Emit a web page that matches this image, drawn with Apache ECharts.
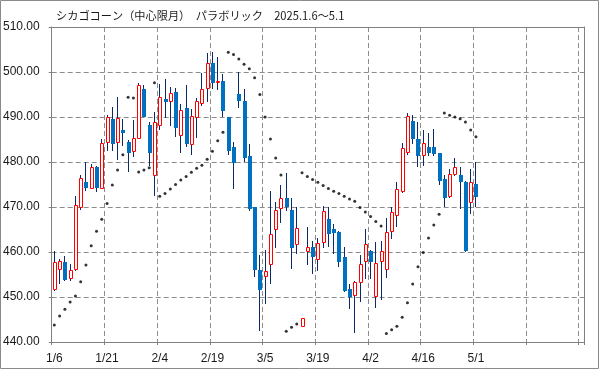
<!DOCTYPE html>
<html><head><meta charset="utf-8">
<script src="https://cdn.jsdelivr.net/npm/echarts@6/dist/echarts.min.js"></script>
<style>html,body{margin:0;padding:0;background:#fff}#c{width:599px;height:369px}</style>
</head><body><div id="c"></div>
<script>
const titleText = 'シカゴコーン（中心限月）　パラボリック　2025.1.6～5.1';
const dates = ['1/6','1/7','1/8','1/9','1/10','1/13','1/14','1/15','1/16','1/17',
  '1/21','1/22','1/23','1/24','1/27','1/28','1/29','1/30','1/31','2/3',
  '2/4','2/5','2/6','2/7','2/10','2/11','2/12','2/13','2/14','2/18',
  '2/19','2/20','2/21','2/24','2/25','2/26','2/27','2/28','3/3','3/4',
  '3/5','3/6','3/7','3/10','3/11','3/12','3/13','3/14','3/17','3/18',
  '3/19','3/20','3/21','3/24','3/25','3/26','3/27','3/28','3/31','4/1',
  '4/2','4/3','4/4','4/7','4/8','4/9','4/10','4/11','4/14','4/15',
  '4/16','4/17','4/21','4/22','4/23','4/24','4/25','4/28','4/29','4/30','5/1'];
const futureDates = ['5/2','5/5','5/6','5/7','5/8','5/9','5/12','5/13','5/14','5/15',
  '5/16','5/19','5/20','5/21','5/22','5/23','5/27','5/28','5/29','5/30'];
const openV = [451.5,455.9,457.8,453.9,455.9,469.8,475.6,474.1,479.0,474.0,
  484.2,489.6,484.2,487.2,484.5,482.2,485.1,496.3,488.3,476.9,
  487.9,494.1,493.3,495.6,485.7,491.9,483.7,489.7,493.0,496.2,
  502.1,497.8,498.1,490.0,483.4,495.2,493.6,481.4,469.9,456.1,
  454.4,457.1,464.9,469.6,472.0,469.3,461.6,443.3,459.9,461.2,
  458.2,462.0,467.4,465.2,464.5,459.0,451.8,450.2,453.1,457.8,
  460.2,450.0,457.8,455.9,464.4,467.9,473.3,481.9,489.1,485.1,
  481.3,483.3,483.4,481.9,476.3,472.2,477.1,477.2,475.6,470.9,475.2];
const closeV = [457.8,458.0,453.8,455.9,470.4,476.4,474.3,478.9,474.3,484.2,
  490.0,484.1,489.7,486.4,481.9,485.3,497.1,490.1,481.9,488.9,
  494.4,493.3,495.3,487.5,491.6,483.9,490.2,493.6,496.2,502.0,
  497.5,498.0,491.3,482.4,479.7,493.5,481.0,469.6,456.1,451.5,
  455.8,464.0,469.3,472.0,470.1,460.8,465.3,445.4,461.1,458.8,
  461.9,469.1,464.1,464.3,457.7,451.3,450.0,453.3,457.3,461.7,
  457.7,457.6,460.2,464.4,469.0,474.0,483.1,490.2,485.0,481.3,
  484.2,482.1,481.7,475.7,471.9,477.3,478.9,475.5,460.2,475.6,472.2];
const lowV = [451.3,453.0,453.5,453.5,455.7,469.3,473.5,473.9,473.3,473.9,
  482.4,482.4,480.4,483.5,477.8,481.1,485.0,490.0,479.2,472.4,
  487.2,489.8,488.1,485.5,482.1,483.3,481.5,485.3,492.4,493.3,
  496.2,496.0,489.9,481.5,474.1,492.1,480.0,469.1,454.4,442.5,
  448.4,452.9,460.9,466.4,469.1,456.3,459.6,443.3,457.2,455.2,
  455.7,461.0,461.2,459.6,456.7,451.2,447.3,442.0,449.0,453.9,
  453.9,447.6,449.3,454.2,462.9,465.6,473.2,481.6,484.1,479.0,
  479.1,481.4,481.3,475.0,470.1,472.1,476.9,469.6,460.0,468.4,470.1];
const highV = [460.2,458.4,459.2,457.3,472.4,477.2,479.9,479.6,479.1,485.1,
  490.5,492.2,494.5,489.6,484.8,489.3,497.6,497.2,488.9,491.1,
  497.3,498.4,496.7,496.5,492.9,497.1,491.8,494.2,499.8,504.2,
  504.5,503.4,499.6,490.1,484.4,500.0,496.3,483.9,470.0,459.4,
  460.4,473.6,471.2,475.0,477.6,472.0,469.9,445.4,465.6,462.4,
  463.1,470.2,469.9,466.3,464.6,461.2,452.9,453.5,459.4,465.1,
  460.5,462.2,462.4,467.6,469.9,475.6,484.3,491.0,490.4,489.0,
  487.1,486.4,487.3,482.0,477.2,478.4,480.9,479.0,475.7,478.4,480.0];
const sarV = [443.8,445.8,447.3,448.9,450.2,453.4,457.1,461.4,464.6,467.3,
  470.8,474.9,478.2,481.6,494.4,494.2,477.8,478.2,478.7,497.6,
  472.4,473.0,474.0,475.0,476.0,476.8,477.7,478.6,479.3,480.6,
  482.4,484.7,486.6,504.4,503.9,502.9,501.7,500.7,498.7,495.0,
  490.0,485.1,480.9,477.1,442.4,443.3,444.0,477.6,476.8,476.1,
  475.5,474.8,474.1,473.5,473.0,472.4,471.8,471.3,469.9,468.9,
  467.9,466.8,465.8,441.9,442.7,443.5,445.5,448.7,452.9,456.7,
  459.9,463.1,466.0,468.4,490.9,490.4,490.0,489.6,488.9,487.1,485.6];
const yMin = 440, yMax = 510, yStep = 10, labelEvery = 10;

const categories = dates.concat(futureDates);
const upColor = '#ff0000', downColor = '#0070c0', wickColor = '#0b2a66';
const gridColor = '#8c8c8c', axisColor = '#808080', textColor = '#1a1a1a';

function renderCandle(params, api) {
  const i = api.value(0), o = api.value(1), c = api.value(2), l = api.value(3), h = api.value(4);
  const x = Math.floor(api.coord([i, o])[0]);
  const yO = Math.round(api.coord([i, o])[1]);
  const yC = Math.round(api.coord([i, c])[1]);
  const yL = Math.round(api.coord([i, l])[1]);
  const yH = Math.round(api.coord([i, h])[1]);
  const top = Math.min(yO, yC), bot = Math.max(yO, yC);
  const children = [];
  if (yL > yH) children.push({type: 'rect', shape: {x: x, y: yH, width: 1, height: yL - yH}, style: {fill: wickColor}});
  if (c >= o) {
    children.push({type: 'rect', shape: {x: x - 0.5, y: top + 0.5, width: 3, height: Math.max(bot - top - 1, 1)},
      style: {fill: '#fff', stroke: upColor, lineWidth: 1}});
  } else {
    children.push({type: 'rect', shape: {x: x - 1, y: top, width: 4, height: Math.max(bot - top, 1)}, style: {fill: downColor}});
  }
  return {type: 'group', children: children};
}

const chart = echarts.init(document.getElementById('c'), null, {renderer: 'canvas'});
chart.setOption({
  animation: false,
  backgroundColor: '#fff',
  title: {
    text: titleText, left: 56, top: 10, padding: 0,
    textStyle: {fontSize: 11.2, fontWeight: 'normal', color: textColor, fontFamily: '"Noto Sans CJK JP", sans-serif'}
  },
  graphic: [{type: 'rect', shape: {x: 0.5, y: 0.5, width: 598, height: 368}, style: {fill: 'none', stroke: '#8a8a8a', lineWidth: 1}, silent: true}],
  grid: {left: 51, right: 15, top: 27, bottom: 27},
  xAxis: [{
    type: 'category', data: categories, boundaryGap: true,
    axisLine: {lineStyle: {color: axisColor, width: 1}},
    axisTick: {show: true, interval: labelEvery - 1, length: 3, lineStyle: {color: axisColor}},
    axisLabel: {
      interval: (idx) => idx % labelEvery === 0 && idx < dates.length,
      margin: 11, color: textColor, fontSize: 12, fontFamily: '"Liberation Sans", Arial, sans-serif'
    },
    splitLine: {show: true, interval: labelEvery - 1, lineStyle: {color: gridColor, type: [5, 3], width: 1}}
  }, {
    type: 'category', data: categories, boundaryGap: true, position: 'top',
    axisLine: {show: true, lineStyle: {color: axisColor, width: 1}},
    axisTick: {show: false}, axisLabel: {show: false}, splitLine: {show: false}
  }],
  yAxis: [{
    type: 'value', min: yMin, max: yMax, interval: yStep,
    axisLine: {show: true, lineStyle: {color: axisColor, width: 1}},
    axisTick: {show: true, length: 3, lineStyle: {color: axisColor}},
    axisLabel: {formatter: (v) => v.toFixed(2), margin: 12, color: textColor, fontSize: 12, fontFamily: '"Liberation Sans", Arial, sans-serif'},
    splitLine: {show: true, lineStyle: {color: gridColor, type: [5, 3], width: 1}}
  }, {
    type: 'value', min: yMin, max: yMax, interval: yStep, position: 'right',
    axisLine: {show: true, lineStyle: {color: axisColor, width: 1}},
    axisTick: {show: false}, axisLabel: {show: false}, splitLine: {show: false}
  }],
  series: [{
    type: 'custom', renderItem: renderCandle,
    encode: {x: 0, y: [1, 2, 3, 4]},
    data: dates.map((d, i) => [i, openV[i], closeV[i], lowV[i], highV[i]]),
    z: 2
  }, {
    type: 'scatter', symbol: 'circle', symbolSize: 3,
    itemStyle: {color: '#000'},
    data: sarV.map((v, i) => [i, v]),
    z: 3
  }]
});
</script></body></html>
